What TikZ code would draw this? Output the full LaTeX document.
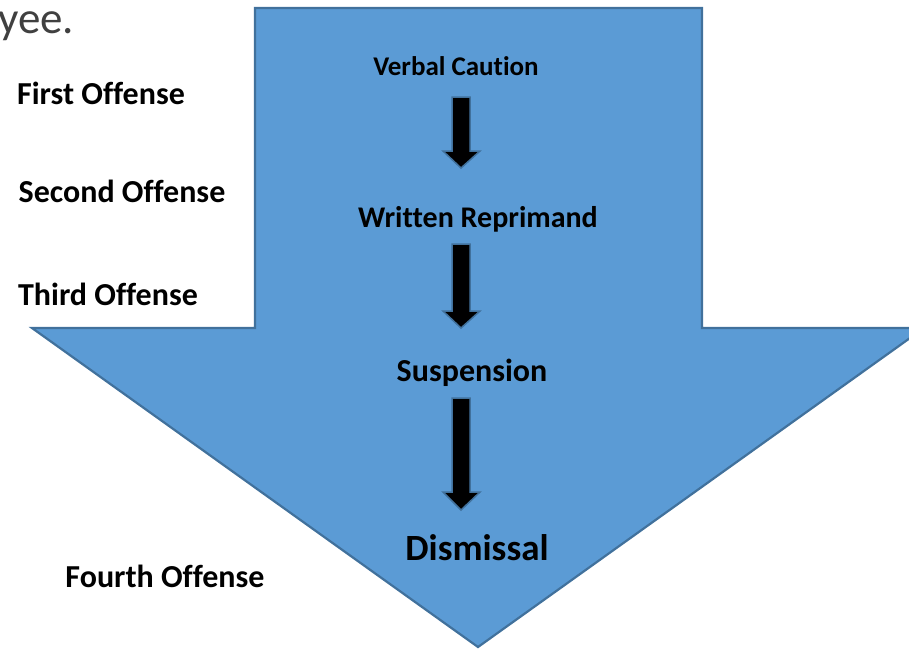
\documentclass[tikz,border=0pt]{standalone}
\usepackage{fontspec}
\setmainfont{Carlito}[Ligatures=NoCommon]
\usetikzlibrary{calc}

\definecolor{arrowblue}{HTML}{5B9BD5}
\definecolor{edgeblue}{HTML}{41719C}

\begin{document}
\begin{tikzpicture}[x=1pt,y=-1pt,
  bigarrow/.style={fill=arrowblue,draw=edgeblue,line width=2.2pt,line join=miter},
  steparrow/.style={fill=black,draw=edgeblue,line width=1.5pt,line join=miter},
  stage/.style={font=\bfseries\fontsize{30}{34}\selectfont,inner sep=0pt},
  offense/.style={font=\bfseries\fontsize{32}{36}\selectfont,inner sep=0pt}]
  \useasboundingbox (0,0) rectangle (909,648);
  % big down arrow
  \draw[bigarrow] (255,8) -- (702,8) -- (702,328) -- (924,328) -- (478,647)
    -- (32,328) -- (255,328) -- cycle;
  % text cut off at the top
  \node[anchor=base west,inner sep=0pt,font=\fontsize{45}{48}\selectfont,text=black!75] (cut) at (-2,33) {yee.};
  % stages
  \node[stage,font=\bfseries\fontsize{27}{30}\selectfont] (caution) at (456,66) {Verbal Caution};
  \node[stage] (reprimand) at (478,219) {Written Reprimand};
  \node[stage,font=\bfseries\fontsize{32}{36}\selectfont] (suspension) at (472,373) {Suspension};
  \node[stage,font=\bfseries\fontsize{37}{40}\selectfont] (dismissal) at (477,548) {Dismissal};
  % offenses
  \node[offense] (first) at (101,93) {First Offense};
  \node[offense] (second) at (122,191) {Second Offense};
  \node[offense] (third) at (108,294) {Third Offense};
  \node[offense] (fourth) at (165,576) {Fourth Offense};
  % small arrows between the stages
  \foreach \top/\base/\tip in {97/151/168, 244/311/328, 398/492/510}
    \draw[steparrow] (452,\top) -- (470,\top) -- (470,\base) -- (480,\base)
      -- (461,\tip) -- (443,\base) -- (452,\base) -- cycle;
\end{tikzpicture}
\end{document}
